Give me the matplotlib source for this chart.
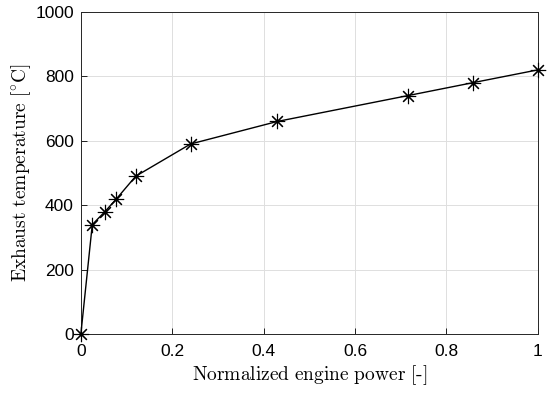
import matplotlib.pyplot as plt

power = [0, 0.025, 0.0525, 0.078, 0.12, 0.24, 0.43, 0.715, 0.857, 1.0]
temperature = [0, 340, 380, 420, 490, 590, 660, 740, 780, 820]
x_ticks = [0, 0.2, 0.4, 0.6, 0.8, 1]
y_ticks = [0, 200, 400, 600, 800, 1000]

plt.rcParams['mathtext.fontset'] = 'cm'
plt.rcParams['font.family'] = ['Liberation Sans', 'DejaVu Sans']

fig = plt.figure(figsize=(5.5, 3.95), dpi=100)
ax = fig.add_axes([0.147, 0.154, 0.831, 0.816])

# MATLAB-style '*' marker: 8-armed asterisk
ax.plot(power, temperature, color='black', linewidth=1.0, marker=(8, 2, 0),
        markersize=11, markeredgewidth=0.8, clip_on=False, zorder=5)

ax.set_xlim(0, 1)
ax.set_ylim(0, 1000)
ax.set_xticks(x_ticks)
ax.set_xticklabels([f'{t:g}' for t in x_ticks])
ax.set_yticks(y_ticks)
ax.tick_params(direction='in', labelsize=12.5, length=4, width=0.6,
               top=False, right=False)
ax.tick_params(axis='x', pad=7)
ax.tick_params(axis='y', pad=5)
ax.grid(True, color='#dedede', linewidth=0.7)
ax.set_axisbelow(True)
for s in ax.spines.values():
    s.set_linewidth(0.7)
    s.set_color('#262626')

ax.set_xlabel(r'$\mathrm{Normalized\ engine\ power\ [\text{-}]}$', fontsize=14, labelpad=3)
ax.set_ylabel(r'$\mathrm{Exhaust\ temperature\ [^{\circ}C]}$', fontsize=14, labelpad=2)

fig.savefig('out.png', dpi=100)
